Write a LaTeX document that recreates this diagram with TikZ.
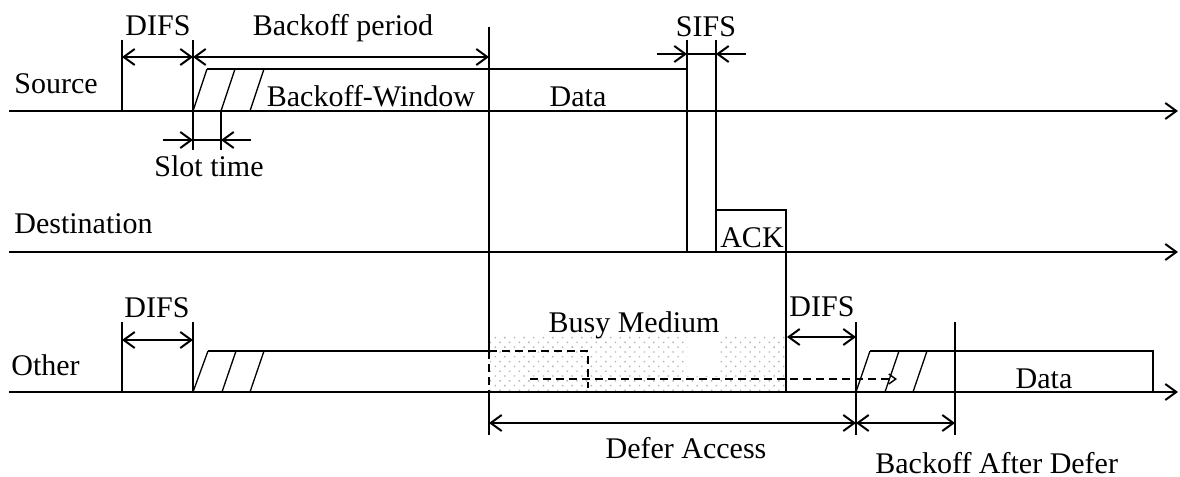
\documentclass[tikz,border=0pt]{standalone}
\usepackage{fontspec}
\setmainfont{Liberation Serif}
\usetikzlibrary{arrows.meta,patterns.meta}
\begin{document}
\begin{tikzpicture}[x=0.5pt,y=-0.5pt,
  thin line/.style={line width=0.65pt},
  tip/.tip={Straight Barb[length=5.5pt,width=8pt,line width=1pt]},
  axis/.style={line width=1pt,-tip},
  span/.style={line width=0.85pt,tip-tip},
  pointer/.style={line width=0.85pt,-tip},
  lbl/.style={inner sep=0pt,anchor=base,font=\fontsize{15}{18}\selectfont},
  lblw/.style={lbl,anchor=base west},
  busy/.style={pattern={Dots[distance=3.4pt,radius=0.5pt,angle=45]},pattern color=gray!60},
  deferred/.style={line width=0.7pt,dash pattern=on 4pt off 2.5pt}]
\useasboundingbox (0,0) rectangle (1180,477);

% busy medium shading on the Other line
\fill[busy] (490,335) -- (687,335) -- (687,376) -- (717,376) -- (717,335)
  -- (787,335) -- (787,392) -- (490,392) -- cycle;

% time axes
\coordinate (srcS) at (9,111);  \coordinate (srcE) at (1178,111);
\coordinate (dstS) at (9,252);  \coordinate (dstE) at (1178,252);
\coordinate (othS) at (9,392);  \coordinate (othE) at (1178,392);
\draw[axis] (srcS) -- (srcE);
\draw[axis] (dstS) -- (dstE);
\draw[axis] (othS) -- (othE);

% ---- Source ----
\draw[thin line] (122,40) -- (122,111);
\draw[thin line] (193,40) -- (193,150);
\draw[thin line] (221,111) -- (221,150);
\draw[thin line] (193,111) -- (207,69);
\draw[thin line] (221,111) -- (235,69);
\draw[thin line] (250,111) -- (264,69);
\draw[thin line] (207,69) -- (687,69);
\draw[span] (122,57) -- (193,57);
\draw[span] (193,57) -- (489,57);
% slot time
\draw[pointer] (163,140) -- (193,140);
\draw[thin line] (193,140) -- (221,140);
\draw[pointer] (251,140) -- (221,140);

% long marker at the end of the backoff period
\draw[thin line] (489,27) -- (489,351);
\draw[deferred] (489,351) -- (489,392);
\draw[thin line] (489,392) -- (489,435);

% SIFS
\draw[thin line] (687,40) -- (687,252);
\draw[thin line] (716,40) -- (716,252);
\draw[thin line] (687,54) -- (716,54);
\draw[pointer] (657,54) -- (687,54);
\draw[pointer] (746,54) -- (716,54);

% ACK
\draw[thin line] (716,210) -- (786,210) -- (786,392);

% ---- Other ----
\draw[thin line] (122,322) -- (122,392);
\draw[thin line] (193,322) -- (193,392);
\draw[span] (122,340) -- (193,340);
\draw[thin line] (193,392) -- (208,351);
\draw[thin line] (222,392) -- (236,351);
\draw[thin line] (250,392) -- (264,351);
\draw[thin line] (208,351) -- (489,351);
\draw[deferred] (489,351) -- (588,351) -- (588,388);
\draw[deferred,-{Straight Barb[length=3.5pt,width=5pt]}] (530,379) -- (897,379);

% DIFS after the busy medium
\draw[thin line] (856,322) -- (856,435);
\draw[span] (787,337) -- (856,337);
\draw[thin line] (856,392) -- (870,351);
\draw[thin line] (885,392) -- (899,351);
\draw[thin line] (913,392) -- (927,351);
\draw[thin line] (870,351) -- (1153,351) -- (1153,392);
\draw[thin line] (955,322) -- (955,435);

% defer / backoff spans
\draw[span] (489,423) -- (856,423);
\draw[span] (856,423) -- (955,423);

% labels
\node[lbl] (tDifs1) at (158,35) {DIFS};
\node[lbl] (tBoPer) at (343,35) {Backoff period};
\node[lbl] (tSifs) at (706,36) {SIFS};
\node[lblw] (tSrc) at (14,93) {Source};
\node[lbl] (tBoWin) at (371,106) {Backoff-Window};
\node[lbl] (tData1) at (578,106) {Data};
\node[lbl] (tSlot) at (209,176) {Slot time};
\node[lblw] (tDst) at (14,233) {Destination};
\node[lbl] (tAck) at (752,247) {ACK};
\node[lbl] (tDifs2) at (157,317) {DIFS};
\node[lbl] (tBusy) at (634,332) {Busy Medium};
\node[lbl] (tDifs3) at (822,316) {DIFS};
\node[lblw] (tOth) at (11,375) {Other};
\node[lbl] (tData2) at (1044,388) {Data};
\node[lbl] (tDefer) at (686,458) {Defer Access};
\node[lblw] (tBoAft) at (875,473) {Backoff After Defer};
\end{tikzpicture}
\end{document}
